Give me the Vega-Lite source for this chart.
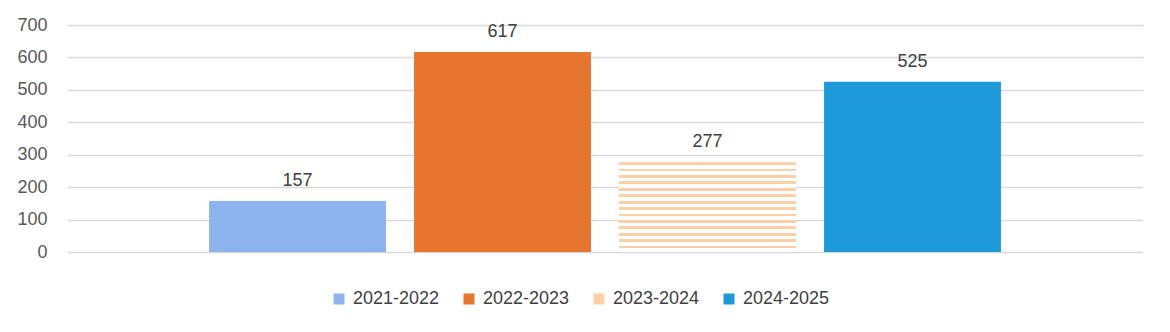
{
  "$schema": "https://vega.github.io/schema/vega-lite/v6.json",
  "autosize": {"type": "none"},
  "width": 1076,
  "height": 227,
  "padding": {"left": 67, "top": 25, "right": 27, "bottom": 80},
  "background": "white",
  "config": {
    "view": {"stroke": null},
    "font": "Liberation Sans",
    "axis": {"labelFont": "Liberation Sans"},
    "legend": {"labelFont": "Liberation Sans"}
  },
  "data": {
    "values": [
      {"series": "2021-2022", "value": 157},
      {"series": "2022-2023", "value": 617},
      {"series": "2023-2024", "value": 277},
      {"series": "2024-2025", "value": 525}
    ]
  },
  "encoding": {
    "x": {
      "field": "series",
      "type": "nominal",
      "sort": null,
      "axis": null,
      "scale": {"paddingInner": 0.137, "paddingOuter": 0.693}
    },
    "y": {
      "field": "value",
      "type": "quantitative",
      "scale": {"domain": [0, 700], "nice": false},
      "axis": {
        "title": null,
        "values": [0, 100, 200, 300, 400, 500, 600, 700],
        "domain": false,
        "ticks": false,
        "labelFontSize": 18,
        "labelColor": "#595959",
        "labelPadding": 20,
        "gridColor": "#d9d9d9",
        "gridWidth": 1.3
      }
    }
  },
  "layer": [
    {
      "mark": {"type": "bar"},
      "encoding": {
        "color": {
          "field": "series",
          "type": "nominal",
          "scale": {
            "domain": ["2021-2022", "2022-2023", "2023-2024", "2024-2025"],
            "range": ["#8db4ec", "#e5752f", "#fcd0a9", "#1f9ad9"]
          },
          "legend": {
            "title": null,
            "orient": "none",
            "legendX": 263,
            "legendY": 265,
            "direction": "horizontal",
            "symbolType": "square",
            "symbolSize": 121,
            "symbolStrokeWidth": 0,
            "labelFontSize": 18,
            "labelColor": "#404040",
            "labelOffset": 5,
            "columnPadding": 20
          }
        }
      }
    },
    {
      "transform": [{"filter": "datum.series === '2023-2024'"}],
      "mark": {
        "type": "bar",
        "fill": {
          "gradient": "linear",
          "x1": 0, "y1": 0, "x2": 0, "y2": 1,
          "stops": [
            {"offset": 0, "color": "#fcd0a9"}, {"offset": 0.0321, "color": "#fcd0a9"}, {"offset": 0.0321, "color": "#ffffff"}, {"offset": 0.0714, "color": "#ffffff"},
            {"offset": 0.0714, "color": "#fcd0a9"}, {"offset": 0.1036, "color": "#fcd0a9"}, {"offset": 0.1036, "color": "#ffffff"}, {"offset": 0.1429, "color": "#ffffff"},
            {"offset": 0.1429, "color": "#fcd0a9"}, {"offset": 0.1750, "color": "#fcd0a9"}, {"offset": 0.1750, "color": "#ffffff"}, {"offset": 0.2143, "color": "#ffffff"},
            {"offset": 0.2143, "color": "#fcd0a9"}, {"offset": 0.2464, "color": "#fcd0a9"}, {"offset": 0.2464, "color": "#ffffff"}, {"offset": 0.2857, "color": "#ffffff"},
            {"offset": 0.2857, "color": "#fcd0a9"}, {"offset": 0.3179, "color": "#fcd0a9"}, {"offset": 0.3179, "color": "#ffffff"}, {"offset": 0.3571, "color": "#ffffff"},
            {"offset": 0.3571, "color": "#fcd0a9"}, {"offset": 0.3893, "color": "#fcd0a9"}, {"offset": 0.3893, "color": "#ffffff"}, {"offset": 0.4286, "color": "#ffffff"},
            {"offset": 0.4286, "color": "#fcd0a9"}, {"offset": 0.4607, "color": "#fcd0a9"}, {"offset": 0.4607, "color": "#ffffff"}, {"offset": 0.5, "color": "#ffffff"},
            {"offset": 0.5, "color": "#fcd0a9"}, {"offset": 0.5321, "color": "#fcd0a9"}, {"offset": 0.5321, "color": "#ffffff"}, {"offset": 0.5714, "color": "#ffffff"},
            {"offset": 0.5714, "color": "#fcd0a9"}, {"offset": 0.6036, "color": "#fcd0a9"}, {"offset": 0.6036, "color": "#ffffff"}, {"offset": 0.6429, "color": "#ffffff"},
            {"offset": 0.6429, "color": "#fcd0a9"}, {"offset": 0.6750, "color": "#fcd0a9"}, {"offset": 0.6750, "color": "#ffffff"}, {"offset": 0.7143, "color": "#ffffff"},
            {"offset": 0.7143, "color": "#fcd0a9"}, {"offset": 0.7464, "color": "#fcd0a9"}, {"offset": 0.7464, "color": "#ffffff"}, {"offset": 0.7857, "color": "#ffffff"},
            {"offset": 0.7857, "color": "#fcd0a9"}, {"offset": 0.8179, "color": "#fcd0a9"}, {"offset": 0.8179, "color": "#ffffff"}, {"offset": 0.8571, "color": "#ffffff"},
            {"offset": 0.8571, "color": "#fcd0a9"}, {"offset": 0.8893, "color": "#fcd0a9"}, {"offset": 0.8893, "color": "#ffffff"}, {"offset": 0.9286, "color": "#ffffff"},
            {"offset": 0.9286, "color": "#fcd0a9"}, {"offset": 0.9607, "color": "#fcd0a9"}, {"offset": 0.9607, "color": "#ffffff"}, {"offset": 1, "color": "#ffffff"}
          ]
        }
      }
    },
    {
      "mark": {
        "type": "text",
        "baseline": "alphabetic",
        "dy": -15,
        "fontSize": 18,
        "color": "#404040"
      },
      "encoding": {
        "text": {"field": "value", "type": "quantitative"}
      }
    }
  ]
}
